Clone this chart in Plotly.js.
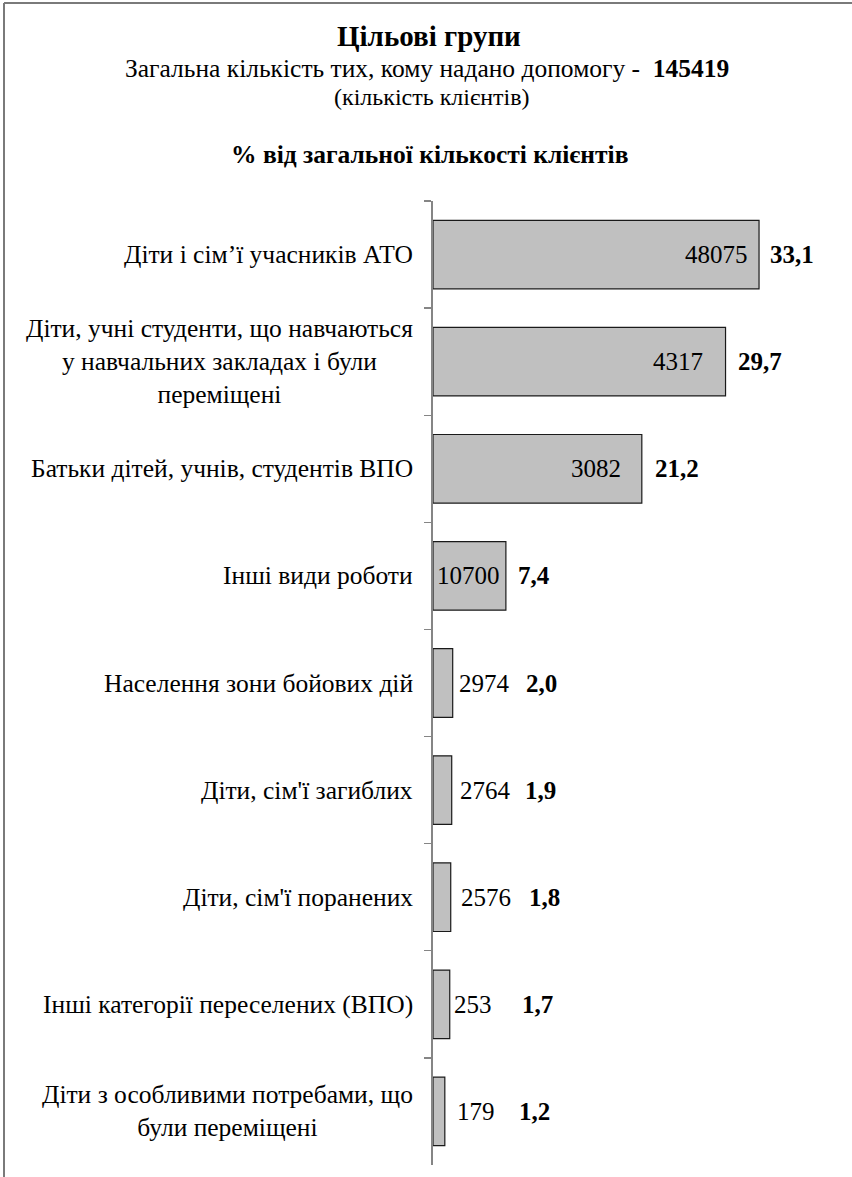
<!DOCTYPE html>
<html><head><meta charset="utf-8">
<script src="https://cdn.plot.ly/plotly-3.0.1.min.js"></script>
<style>
html,body{margin:0;padding:0;background:#fff;font-family:'Liberation Serif','Times New Roman',serif;}
html body #chart svg text, html body #chart svg tspan{font-family:'Liberation Serif','Times New Roman',serif !important;}
</style>
</head><body><div id="chart" style="width:852px;height:1177px"></div>
<script>
// ---- data ----
const categories = [
  'Діти і сім’ї учасників АТО',
  'Діти, учні студенти, що навчаються<br>у навчальних закладах і були<br>переміщені',
  'Батьки дітей, учнів, студентів ВПО',
  'Інші види роботи',
  'Населення зони бойових дій',
  "Діти, сім'ї загиблих",
  "Діти, сім'ї поранених",
  'Інші категорії переселених (ВПО)',
  'Діти з особливими потребами, що<br>були переміщені'
];
const percents = [33.1, 29.7, 21.2, 7.4, 2.0, 1.9, 1.8, 1.7, 1.2];
const counts = [48075, 4317, 3082, 10700, 2974, 2764, 2576, 253, 179];
const totalClients = 145419;
const titleText = 'Цільові групи';
const subtitleText = 'Загальна кількість тих, кому надано допомогу - ';
const unitText = '(кількість клієнтів)';
const axisCaption = '% від загальної кількості клієнтів';

// ---- layout helpers (pixels) ----
const W = 852, H = 1177, L = 433, R = 25, T = 201, B = 12;
const PW = W - L - R, PH = H - T - B;
const px = x => (x - L) / PW;
const py = y => (H - B - y) / PH;
const SERIF = 'Liberation Serif';
const countShift = [-9, -21, -19, -4, 4, 6, 8, 2, 10];
const pctShift = [9, 10, 11, 10, 71, 71, 76, 70, 72];

const fmtPct = v => v.toFixed(1).replace('.', ',');
const f = size => ({family: SERIF, size: size, color: '#000'});

const annotations = [];
annotations.push({xref:'paper', yref:'paper', x:px(429), y:py(36), xanchor:'center', yanchor:'middle',
  text:'<b>'+titleText+'</b>', showarrow:false, font:f(29)});
annotations.push({xref:'paper', yref:'paper', x:px(427), y:py(68), xanchor:'center', yanchor:'middle',
  text:subtitleText+' <b>'+totalClients+'</b>', showarrow:false, font:f(25.5)});
annotations.push({xref:'paper', yref:'paper', x:px(432), y:py(97), xanchor:'center', yanchor:'middle',
  text:unitText, showarrow:false, font:f(24)});
annotations.push({xref:'paper', yref:'paper', x:px(429), y:py(155), xanchor:'center', yanchor:'middle',
  text:'<b>'+axisCaption+'</b>', showarrow:false, font:f(25.5)});

categories.forEach((c, i) => {
  annotations.push({xref:'paper', yref:'y', x:0, xshift:-18, y:c, xanchor:'right', yanchor:'middle',
    align:'center', text:c, showarrow:false, font:f(25.5)});
  const inside = percents[i] > 5;
  annotations.push({xref:'x', yref:'y', x:percents[i], y:c, xanchor: inside ? 'right' : 'left',
    xshift: countShift[i], yanchor:'middle', text:String(counts[i]), showarrow:false, font:f(25)});
  annotations.push({xref:'x', yref:'y', x:percents[i], y:c, xanchor:'left', xshift:pctShift[i],
    yanchor:'middle', text:'<b>'+fmtPct(percents[i])+'</b>', showarrow:false, font:f(25)});
});

const data = [{
  type:'bar', orientation:'h', y:categories, x:percents, width:0.64,
  marker:{color:'#c0c0c0', line:{color:'#1a1a1a', width:1.2}},
  hoverinfo:'none'
}];

const layout = {
  width:W, height:H, margin:{l:L, r:R, t:T, b:B, pad:0},
  showlegend:false,
  font:{family:SERIF, size:20, color:'#000'},
  xaxis:{range:[0,40], visible:false, fixedrange:true},
  yaxis:{type:'category', autorange:'reversed', showticklabels:false, tickson:'boundaries',
    ticks:'outside', ticklen:7, tickwidth:1.3, tickcolor:'#858585', showline:true,
    linecolor:'#858585', linewidth:2, showgrid:false, zeroline:false, fixedrange:true},
  annotations:annotations,
  shapes:[
    {type:'line', xref:'paper', yref:'paper', x0:px(4), x1:px(4), y0:py(3), y1:py(H+5), line:{color:'#7a7a7a', width:2}},
    {type:'line', xref:'paper', yref:'paper', x0:px(4), x1:px(W+5), y0:py(3), y1:py(3), line:{color:'#7a7a7a', width:2}}
  ]
};
Plotly.newPlot('chart', data, layout, {staticPlot:true});
</script></body></html>
